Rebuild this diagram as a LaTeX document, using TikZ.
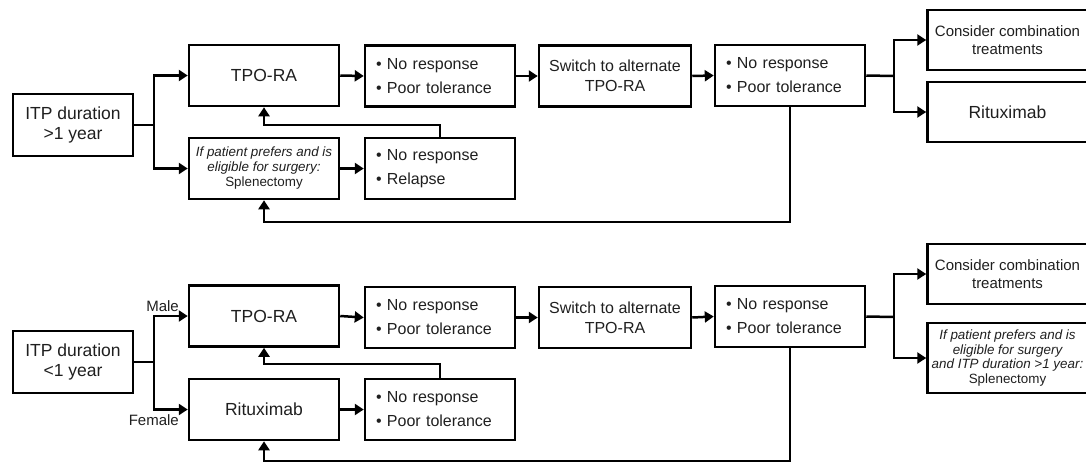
\documentclass[tikz,border=0pt]{standalone}
\usepackage{fontspec}
\setmainfont{Liberation Sans}
\usetikzlibrary{arrows.meta}
\begin{document}
\begin{tikzpicture}[x=1pt,y=-1pt,
  box/.style={draw=black,line width=2.5pt,inner sep=0pt,align=center,text=black!88},
  bigbox/.style={box,minimum width=150pt,minimum height=61pt,font=\fontsize{17.5}{20}\selectfont},
  swbox/.style={box,minimum width=152pt,minimum height=61pt,font=\fontsize{16}{20}\selectfont},
  bulbox/.style={box,minimum width=150pt,minimum height=61pt,text width=128pt,align=left,inner xsep=11pt,font=\fontsize{16}{24}\selectfont},
  itpbox/.style={box,minimum width=120pt,minimum height=62pt,font=\fontsize{17.5}{20}\selectfont},
  smallbox/.style={box,minimum width=150pt,minimum height=61pt,font=\fontsize{13.4}{15}\selectfont},
  rbox/.style={box,minimum width=160pt,minimum height=60pt},
  lab/.style={inner sep=0pt,text=black!88,font=\fontsize{15}{18}\selectfont},
  arr/.style={line width=2.5pt,-{Triangle[length=9pt,width=11pt]}},
  ln/.style={line width=2.5pt}
]
\useasboundingbox (0,0) rectangle (1086,464);

% ---------- top panel ----------
\node[itpbox] (itp1) at (73,125) {ITP duration\\>1 year};
\node[bigbox] (tpo1) at (264,75.5) {TPO-RA};
\node[smallbox] (spl1) at (264,168.5) {\itshape If patient prefers and is\\\itshape eligible for surgery:\\Splenectomy};
\node[bulbox] (nr1) at (440,76) {• No response\\• Poor tolerance};
\node[bulbox] (rel1) at (440,168.5) {• No response\\• Relapse};
\node[swbox] (sw1) at (615,76) {Switch to alternate\\TPO-RA};
\node[bulbox] (nr2) at (790,75.5) {• No response\\• Poor tolerance};
\node[rbox,font=\fontsize{15}{18}\selectfont] (comb1) at (1007.5,40) {Consider combination\\treatments};
\node[rbox,font=\fontsize{17.5}{20}\selectfont] (rit1) at (1007.5,112) {Rituximab};

\coordinate (b1) at (154,125);
\coordinate (b2) at (894,76);
\coordinate (fb1) at (440,125);
\coordinate (fb2) at (790,222);

\draw[ln] (itp1.east) -- (b1);
\draw[arr] (b1) |- (tpo1.west);
\draw[arr] (b1) |- (spl1.west);
\draw[arr] (tpo1.east) -- (nr1.west);
\draw[arr] (spl1.east) -- (rel1.west);
\draw[arr] (nr1.east) -- (sw1.west);
\draw[arr] (sw1.east) -- (nr2.west);
\draw[ln] (nr2.east) -- (b2);
\draw[arr] (b2) |- (comb1.west);
\draw[arr] (b2) |- (rit1.west);
\draw[arr] (rel1.north) -- (fb1) -| (tpo1.south);
\draw[arr] (nr2.south) -- (fb2) -| (spl1.south);

% ---------- bottom panel ----------
\node[itpbox] (itp2) at (73,362) {ITP duration\\<1 year};
\node[bigbox] (tpo2) at (264,316) {TPO-RA};
\node[bigbox] (rit2) at (264,409.5) {Rituximab};
\node[bulbox] (nr3) at (440,317.5) {• No response\\• Poor tolerance};
\node[bulbox] (nr4) at (440,409.5) {• No response\\• Poor tolerance};
\node[swbox] (sw2) at (615,317.5) {Switch to alternate\\TPO-RA};
\node[bulbox] (nr5) at (790,316.5) {• No response\\• Poor tolerance};
\node[rbox,font=\fontsize{15}{18}\selectfont] (comb2) at (1007.5,274) {Consider combination\\treatments};
\node[rbox,minimum height=70pt,font=\fontsize{13.4}{14.7}\selectfont] (spl2) at (1007.5,358) {\itshape If patient prefers and is\\\itshape eligible for surgery\\\itshape and ITP duration >1 year:\\Splenectomy};

\node[lab,anchor=east] (male) at (179,306) {Male};
\node[lab,anchor=east] (female) at (179,420) {Female};

\coordinate (b3) at (154,362);
\coordinate (b4) at (894,317);
\coordinate (fb3) at (440,364);
\coordinate (fb4) at (790,461);

\draw[ln] (itp2.east) -- (b3);
\draw[arr] (b3) |- (tpo2.west);
\draw[arr] (b3) |- (rit2.west);
\draw[arr] (tpo2.east) -- (nr3.west);
\draw[arr] (rit2.east) -- (nr4.west);
\draw[arr] (nr3.east) -- (sw2.west);
\draw[arr] (sw2.east) -- (nr5.west);
\draw[ln] (nr5.east) -- (b4);
\draw[arr] (b4) |- (comb2.west);
\draw[arr] (b4) |- (spl2.west);
\draw[arr] (nr4.north) -- (fb3) -| (tpo2.south);
\draw[arr] (nr5.south) -- (fb4) -| (rit2.south);
\end{tikzpicture}
\end{document}
